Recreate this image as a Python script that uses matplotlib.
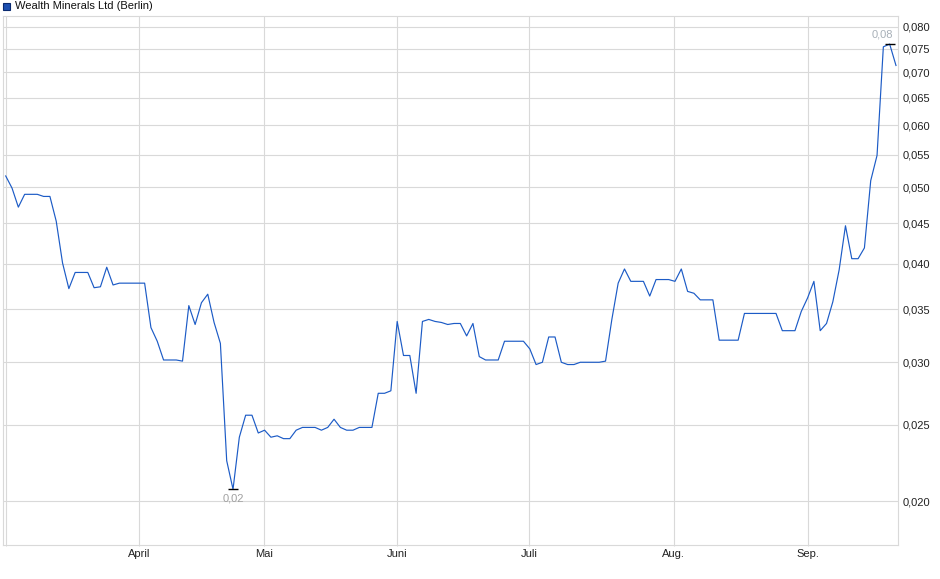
import numpy as np
import matplotlib
matplotlib.use("Agg")
import matplotlib.pyplot as plt
from matplotlib.ticker import FixedLocator, FuncFormatter, NullLocator
from matplotlib.patches import Rectangle

plt.rcParams['font.family'] = ['Liberation Sans', 'DejaVu Sans']

title = "Wealth Minerals Ltd (Berlin)"

# daily closing prices (EUR), one value per trading day, March .. mid September
prices = [
    0.0517, 0.0499, 0.0472, 0.0490, 0.0490, 0.0490, 0.0487, 0.0487, 0.0453, 0.0401,
    0.0372, 0.0390, 0.0390, 0.0390, 0.0373, 0.0374, 0.0396, 0.0376, 0.0378, 0.0378,
    0.0378, 0.0378, 0.0378, 0.0332, 0.0319, 0.0302, 0.0302, 0.0302, 0.0301, 0.0354,
    0.0335, 0.0357, 0.0366, 0.0337, 0.0317, 0.0225, 0.0207, 0.0241, 0.0257, 0.0257,
    0.0244, 0.0246, 0.0241, 0.0242, 0.0240, 0.0240, 0.0246, 0.0248, 0.0248, 0.0248,
    0.0246, 0.0248, 0.0254, 0.0248, 0.0246, 0.0246, 0.0248, 0.0248, 0.0248, 0.0274,
    0.0274, 0.0276, 0.0338, 0.0306, 0.0306, 0.0274, 0.0338, 0.0340, 0.0338, 0.0337,
    0.0335, 0.0336, 0.0336, 0.0324, 0.0336, 0.0305, 0.0302, 0.0302, 0.0302, 0.0319,
    0.0319, 0.0319, 0.0319, 0.0312, 0.0298, 0.0300, 0.0323, 0.0323, 0.0300, 0.0298,
    0.0298, 0.0300, 0.0300, 0.0300, 0.0300, 0.0301, 0.0340, 0.0378, 0.0394, 0.0380,
    0.0380, 0.0380, 0.0364, 0.0382, 0.0382, 0.0382, 0.0380, 0.0394, 0.0369, 0.0367,
    0.0360, 0.0360, 0.0360, 0.0320, 0.0320, 0.0320, 0.0320, 0.0346, 0.0346, 0.0346,
    0.0346, 0.0346, 0.0346, 0.0329, 0.0329, 0.0329, 0.0348, 0.0362, 0.0380, 0.0329,
    0.0336, 0.0358, 0.0393, 0.0447, 0.0406, 0.0406, 0.0419, 0.0510, 0.0549, 0.0754,
    0.0760, 0.0714,
]

# month starts (position in trading days) and their labels
month_pos = [0, 21.1, 40.9, 62.0, 82.9, 105.8, 127.1]
month_labels = ["", "April", "Mai", "Juni", "Juli", "Aug.", "Sep."]

y_ticks = [0.020, 0.025, 0.030, 0.035, 0.040, 0.045, 0.050,
           0.055, 0.060, 0.065, 0.070, 0.075, 0.080]

x = np.arange(len(prices))
y = np.array(prices)

fig = plt.figure(figsize=(9.4, 5.79), dpi=100)
ax = fig.add_axes([3 / 940, 1 - 545 / 579, 895 / 940, 529 / 579])

grid_c = '#d9d9d9'
ax.plot(x, y, color='#1c5bc6', lw=0.85, zorder=3)

ax.set_yscale('log')
ax.set_ylim(0.01759, 0.0825)
ax.set_xlim(-0.43, 141.32)

ax.yaxis.set_major_locator(FixedLocator(y_ticks))
ax.yaxis.set_minor_locator(NullLocator())
ax.yaxis.set_major_formatter(FuncFormatter(lambda v, p: f"{v:.3f}".replace('.', ',')))
ax.yaxis.tick_right()

ax.xaxis.set_major_locator(FixedLocator(month_pos))
ax.set_xticklabels(month_labels)

ax.grid(True, color=grid_c, lw=0.8, zorder=0)
ax.tick_params(axis='both', colors=grid_c, labelcolor='#222222', labelsize=8, width=0.8)
ax.tick_params(axis='y', length=0, pad=3)
ax.tick_params(axis='x', length=1, pad=2)
for s in ax.spines.values():
    s.set_color(grid_c)
    s.set_linewidth(0.8)

# min / max markers
imin = int(np.argmin(y))
imax = int(np.argmax(y))
ax.hlines([y[imin], y[imax]], [imin - 0.8, imax - 0.8], [imin + 0.8, imax + 0.8],
          colors='black', lw=1.0, zorder=4)
ax.annotate(f"{y[imin]:.2f}".replace('.', ','), (imin, y[imin]), xytext=(0, -3),
            textcoords='offset points', ha='center', va='top', fontsize=8, color='#a0a0a0')
ax.annotate(f"{y[imax]:.2f}".replace('.', ','), (imax, y[imax]), xytext=(-5, 3),
            textcoords='offset points', ha='center', va='bottom', fontsize=8, color='#a8b0b8')

# legend box
fig.patches.append(Rectangle((3 / 940, 1 - 10 / 579), 7 / 940, 7 / 579,
                             transform=fig.transFigure, facecolor='#1c4fb0',
                             edgecolor='#0a2a70', lw=0.8))
fig.text(15 / 940, 1 - 6 / 579, title, fontsize=8, color='#111111', va='center', ha='left')

fig.savefig('out.png', dpi=100)
